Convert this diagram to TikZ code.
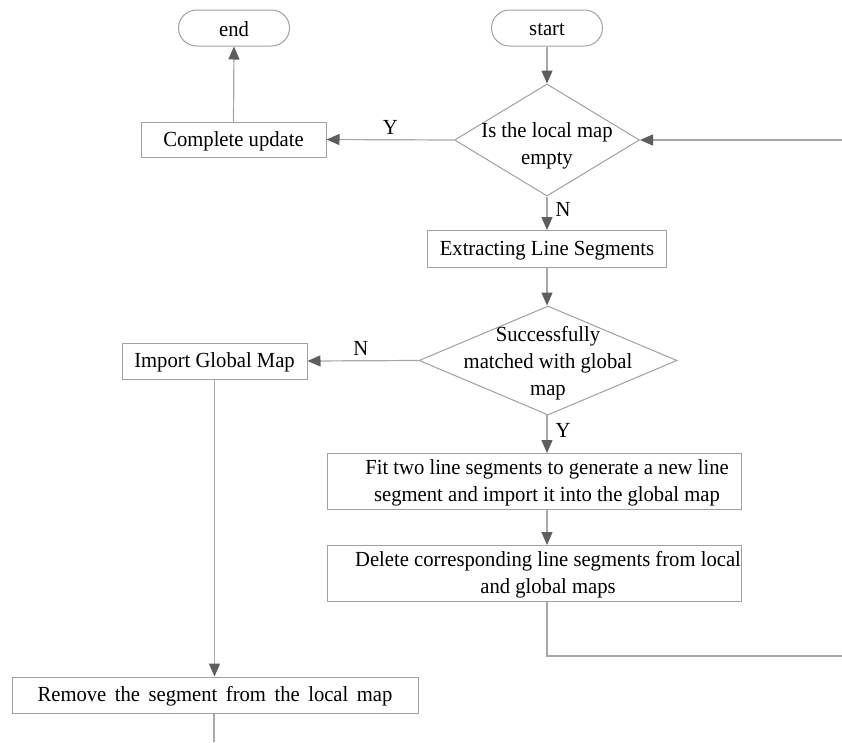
\documentclass[tikz,border=0pt]{standalone}
\usepackage{fontspec}
\setmainfont{Liberation Serif}[FakeStretch=0.96]
\usetikzlibrary{arrows.meta,shapes.geometric}
\definecolor{lineg}{HTML}{A8A8A8}
\definecolor{tipg}{HTML}{5E5E5E}
\definecolor{boxg}{HTML}{A0A0A0}
\begin{document}
\begin{tikzpicture}[x=1pt,y=-1pt,
  every node/.style={font=\fontsize{21.5}{27}\selectfont, text=black},
  procbox/.style={draw=boxg, line width=1pt, rectangle, inner sep=0pt, align=center},
  termbox/.style={draw=boxg, line width=1pt, rectangle, rounded corners=18pt, inner sep=0pt, minimum width=111pt, minimum height=36pt},
  decbox/.style={draw=boxg, line width=1pt, diamond, inner sep=0pt},
  txt/.style={align=center, inner sep=0pt},
  conn/.style={draw=lineg, line width=1.2pt},
  flow/.style={conn, -{Triangle[length=13pt,width=11pt,color=tipg]}},
  lbl/.style={inner sep=0pt}
]
\useasboundingbox (0,0) rectangle (842,742);
\fill[white] (0,0) rectangle (842,742);

% terminals
\node[termbox] (end) at (234,28) {};
\node[txt] (endt) at (234,29.5) {end};
\node[termbox] (start) at (547,28) {};
\node[txt] (startt) at (547,29.5) {start};

% decision 1
\node[decbox, minimum width=185pt, minimum height=112pt] (d1) at (547,140) {};
\node[txt] (d1t) at (547,146) {Is the local map\\empty};

\node[procbox, minimum width=185pt, minimum height=35pt] (cu) at (233.5,139.5) {};
\node[txt] (cut) at (233.5,141) {Complete update};
\node[procbox, minimum width=239pt, minimum height=37pt] (ex) at (547,249) {};
\node[txt] (ext) at (547,250.5) {Extracting Line Segments};

% decision 2
\node[decbox, minimum width=258pt, minimum height=109pt] (d2) at (548,360.5) {};
\node[txt] (d2t) at (548,363) {Successfully\\matched with global\\map};

\node[procbox, minimum width=185pt, minimum height=36pt] (ig) at (214.5,361) {};
\node[txt] (igt) at (214.5,362.5) {Import Global Map};
\node[procbox, minimum width=414pt, minimum height=56pt] (fit) at (534,481) {};
\node[txt] (fitt) at (547,482.5) {Fit two line segments to generate a new line\\segment and import it into the global map};
\node[procbox, minimum width=414pt, minimum height=56pt] (del) at (534,573) {};
\node[txt] (delt) at (548,574.5) {Delete corresponding line segments from local\\and global maps};
\node[procbox, minimum width=406pt, minimum height=36pt] (rm) at (215,695) {};
\node[txt] (rmt) at (215,696.5) {\spaceskip=8.5pt plus 2pt\relax Remove the segment from the local map};

% free ends
\coordinate (rin) at (842,140);
\coordinate (rlow) at (842,656);
\coordinate (bot) at (214,742);

% connectors
\draw[flow] (start.south) -- (d1.north);
\draw[flow] (d1.west) -- (cu.east) node[lbl, pos=0.5, above=5pt] (ly1) {Y};
\draw[flow] (cu.north) -- (end.south);
\draw[flow] (rin) -- (d1.east);
\draw[flow] (d1.south) -- (ex.north) node[lbl, pos=0.4, right=8pt] (ln1) {N};
\draw[flow] (ex.south) -- (ex.south |- d2.north);
\draw[flow] (d2.west) -- (ig.east) node[lbl, pos=0.52, above=5pt] (ln2) {N};
\draw[flow] (547,415) -- (547,453) node[lbl, pos=0.4, right=8pt] (ly2) {Y};
\draw[flow] (547,509) -- (547,545);
\draw[conn] (547,601) -- (547,656) -- (rlow);
\draw[flow] (ig.south) -- (rm.north -| ig.south);
\draw[conn] (rm.south -| bot) -- (bot);
\end{tikzpicture}
\end{document}
